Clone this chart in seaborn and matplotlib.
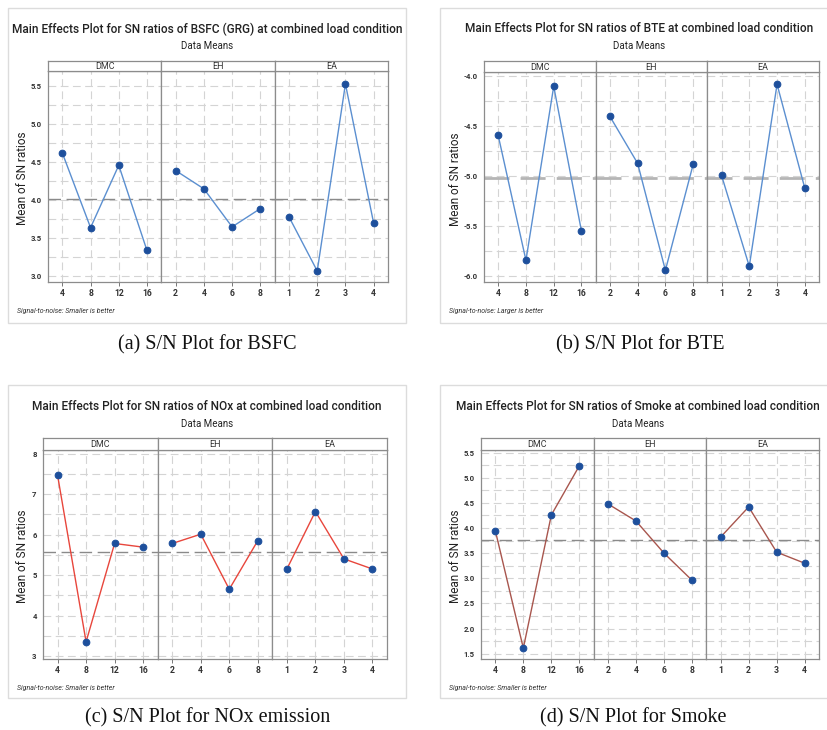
import numpy as np
import pandas as pd
import matplotlib
matplotlib.use("Agg")
import matplotlib.pyplot as plt
import seaborn as sns
from matplotlib.patches import Rectangle

sns.set_style("white")
plt.rcParams['font.family'] = ['Roboto', 'DejaVu Sans']

# factor levels
factors = ["DMC", "EH", "EA"]
dmc_levels = [4, 8, 12, 16]
eh_levels = [2, 4, 6, 8]
ea_levels = [1, 2, 3, 4]

# mean of SN ratios
bsfc_dmc = [4.62, 3.64, 4.46, 3.34]
bsfc_eh = [4.39, 4.15, 3.65, 3.89]
bsfc_ea = [3.78, 3.07, 5.53, 3.70]

bte_dmc = [-4.59, -5.84, -4.10, -5.55]
bte_eh = [-4.40, -4.87, -5.94, -4.88]
bte_ea = [-4.99, -5.90, -4.08, -5.12]

nox_dmc = [7.47, 3.35, 5.78, 5.69]
nox_eh = [5.78, 6.01, 4.65, 5.85]
nox_ea = [5.15, 6.57, 5.40, 5.15]

smoke_dmc = [3.95, 1.61, 4.26, 5.24]
smoke_eh = [4.48, 4.14, 3.50, 2.96]
smoke_ea = [3.82, 4.42, 3.52, 3.30]

titles = [
    "Main Effects Plot for SN ratios of BSFC (GRG) at combined load condition",
    "Main Effects Plot for SN ratios of BTE at combined load condition",
    "Main Effects Plot for SN ratios of NOx at combined load condition",
    "Main Effects Plot for SN ratios of Smoke at combined load condition",
]
captions = ["(a) S/N Plot for BSFC", "(b) S/N Plot for BTE",
            "(c) S/N Plot for NOx emission", "(d) S/N Plot for Smoke"]
notes = ["Signal-to-noise: Smaller is better", "Signal-to-noise: Larger is better",
         "Signal-to-noise: Smaller is better", "Signal-to-noise: Smaller is better"]

W, H = 828, 730
fig = plt.figure(figsize=(W / 100, H / 100), dpi=100)


def rect(x0, y0, x1, y1):
    return [x0 / W, 1 - y1 / H, (x1 - x0) / W, (y1 - y0) / H]


def build_df(vals):
    rows = []
    for f, lev, v in zip(factors, [dmc_levels, eh_levels, ea_levels], vals):
        for l, y in zip(lev, v):
            rows.append({"factor": f, "level": l, "sn": y})
    return pd.DataFrame(rows)


panels = [
    dict(vals=[bsfc_dmc, bsfc_eh, bsfc_ea], box=(8, 8, 406, 323), plot=(48, 61, 71, 388, 282),
         tcx=207, ty=29, ylx=23, nx=17, ny=311, line="#5b8fd0", mean_c="#8a8a8a", mean_lw=1.0,
         yticks=np.arange(3.0, 5.51, 0.5), ylim=(2.925, 5.70), fmt="{:.1f}", cap=(207, 345)),
    dict(vals=[bte_dmc, bte_eh, bte_ea], box=(440, 8, 840, 323), plot=(484, 61, 72, 819, 282),
         tcx=639, ty=29, ylx=456, nx=449, ny=311, line="#5b8fd0", mean_c="#b5b5b5", mean_lw=2.0,
         yticks=np.arange(-6.0, -3.99, 0.5), ylim=(-6.057, -3.957), fmt="{:.1f}", cap=(640, 345)),
    dict(vals=[nox_dmc, nox_eh, nox_ea], box=(8, 385, 406, 698), plot=(43, 438, 450, 387, 659),
         tcx=207, ty=407, ylx=23, nx=17, ny=688, line="#e8463c", mean_c="#8a8a8a", mean_lw=1.0,
         yticks=np.arange(3, 8.1, 1), ylim=(2.926, 8.09), fmt="{:.0f}", cap=(208, 718)),
    dict(vals=[smoke_dmc, smoke_eh, smoke_ea], box=(440, 385, 840, 698), plot=(481, 438, 450, 819, 659),
         tcx=638, ty=407, ylx=456, nx=449, ny=688, line="#a8564e", mean_c="#8a8a8a", mean_lw=1.0,
         yticks=np.arange(1.5, 5.51, 0.5), ylim=(1.394, 5.553), fmt="{:.1f}", cap=(633, 718)),
]

grid_kw = dict(color="#d4d4d4", lw=0.8, ls=(0, (7, 4)), zorder=0)

for k, p in enumerate(panels):
    df = build_df(p["vals"])
    mean_val = df["sn"].mean()
    bx0, by0, bx1, by1 = p["box"]
    fig.patches.append(Rectangle((bx0 / W, 1 - by1 / H), (bx1 - bx0) / W, (by1 - by0) / H,
                                 transform=fig.transFigure, fill=False, ec="#dcdcdc", lw=1.0))
    fig.text(p["tcx"] / W, 1 - p["ty"] / H, titles[k], ha="center", va="center",
             fontsize=8.6, fontweight="medium", color="#222222")
    fig.text(p["tcx"] / W, 1 - (p["ty"] + 17) / H, "Data Means", ha="center", va="center",
             fontsize=7, color="#222222")
    pl, st, sb, pr, pb = p["plot"]
    fig.text(p["ylx"] / W, 1 - ((sb + pb) / 2 + 2) / H, "Mean of SN ratios", rotation=90,
             ha="center", va="center", fontsize=8.5, color="#222222")
    fig.text(p["nx"] / W, 1 - p["ny"] / H, notes[k], ha="left", va="center",
             fontsize=5, style="italic", color="#333333")
    fig.text(p["cap"][0] / W, 1 - p["cap"][1] / H, captions[k], ha="center", va="center",
             fontsize=14.5, family="Liberation Serif", color="#111111")

    fw = (pr - pl) / 3
    for i, f in enumerate(factors):
        x0 = pl + i * fw
        ax = fig.add_axes(rect(x0, sb, x0 + fw, pb))
        sax = fig.add_axes(rect(x0, st, x0 + fw, sb))
        sub = df[df["factor"] == f]
        lev = sub["level"].to_numpy()
        span = lev.max() - lev.min()
        ax.set_xlim(lev.min() - 0.17 * span, lev.max() + 0.17 * span)
        ax.set_ylim(*p["ylim"])
        # dashed grid: vertical at levels, horizontal at half steps
        for xv in lev:
            ax.axvline(xv, **grid_kw)
        step = p["yticks"][1] - p["yticks"][0]
        for yv in np.arange(p["yticks"][0], p["yticks"][-1] + step / 4, step / 2):
            ax.axhline(yv, **grid_kw)
        ax.axhline(mean_val, color=p["mean_c"], lw=p["mean_lw"], ls=(0, (9, 4)), zorder=1)
        sns.lineplot(data=sub, x="level", y="sn", ax=ax, color=p["line"], lw=1.0,
                     marker="o", markersize=4.8, markerfacecolor="#1d4f9c",
                     markeredgecolor="#1d4f9c", zorder=3)
        ax.set_xticks(lev)
        ax.set_xticklabels([str(v) for v in lev], fontsize=6.2, fontweight="bold", color="#333333")
        ax.set_xlabel("")
        ax.set_ylabel("")
        ax.set_yticks(p["yticks"])
        if i == 0:
            ax.set_yticklabels([p["fmt"].format(v) for v in p["yticks"]], fontsize=5.6,
                               fontweight="bold", color="#333333")
            ax.tick_params(axis="y", length=3, width=0.7, color="#777777", pad=1.5)
        else:
            ax.tick_params(axis="y", left=False, labelleft=False)
        ax.tick_params(axis="x", length=3, width=0.7, color="#777777", pad=2, bottom=True)
        for s in ax.spines.values():
            s.set_color("#8c8c8c")
            s.set_linewidth(0.9)
        sax.set_xticks([])
        sax.set_yticks([])
        for s in sax.spines.values():
            s.set_color("#8c8c8c")
            s.set_linewidth(0.9)
        sax.text(0.5, 0.45, f, transform=sax.transAxes, ha="center", va="center",
                 fontsize=6.5, color="#333333")

fig.savefig("out.png", dpi=100, facecolor="white")
